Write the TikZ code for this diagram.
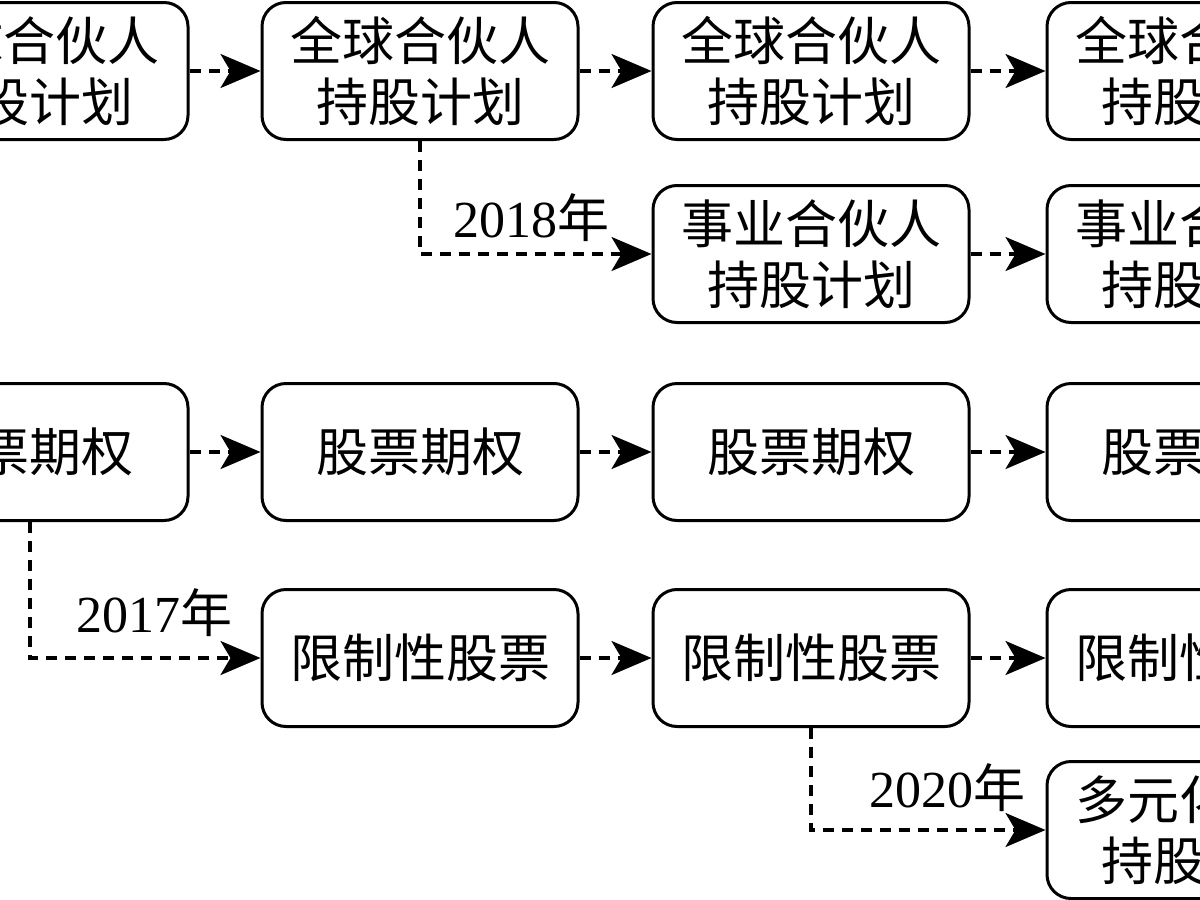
\documentclass[tikz,border=0pt]{standalone}
\usepackage{fontspec}
\usepackage{tikz}
\usetikzlibrary{arrows.meta}
\setmainfont{Liberation Serif}
\newfontfamily\cjk{Noto Sans CJK SC}

\begin{document}
\begin{tikzpicture}[x=1pt,y=-1pt,
  box/.style={draw,line width=3pt,rounded corners=24pt,minimum width=316pt,minimum height=137pt,align=center,font=\cjk\fontsize{52}{61}\selectfont},
  link/.style={line width=3.2pt,dash pattern=on 11pt off 8pt,-{Stealth[length=40pt,width=34pt,inset=10pt]}},
  year/.style={above,inner sep=3pt,font=\fontsize{52}{61}\selectfont}]
\useasboundingbox (0,0) rectangle (1200,900);
\clip (0,0) rectangle (1200,900);
\node[box] (a1) at (30,71) {全球合伙人\\持股计划};
\node[box] (a2) at (420,71) {全球合伙人\\持股计划};
\node[box] (a3) at (811,71) {全球合伙人\\持股计划};
\node[box] (a4) at (1205,71) {全球合伙人\\持股计划};
\node[box] (b3) at (811,254) {事业合伙人\\持股计划};
\node[box] (b4) at (1205,254) {事业合伙人\\持股计划};
\node[box] (c1) at (30,452) {股票期权};
\node[box] (c2) at (420,452) {股票期权};
\node[box] (c3) at (811,452) {股票期权};
\node[box] (c4) at (1205,452) {股票期权};
\node[box] (d2) at (420,658) {限制性股票};
\node[box] (d3) at (811,658) {限制性股票};
\node[box] (d4) at (1205,658) {限制性股票};
\node[box] (e4) at (1205,830) {多元化员工\\持股计划};
\draw[link] (a1) -- (a2);
\draw[link] (a2) -- (a3);
\draw[link] (a3) -- (a4);
\draw[link] (b3) -- (b4);
\draw[link] (c1) -- (c2);
\draw[link] (c2) -- (c3);
\draw[link] (c3) -- (c4);
\draw[link] (d2) -- (d3);
\draw[link] (d3) -- (d4);
\draw[link] (a2.south) |- (b3.west) node[year,pos=0.74,yshift=8pt] {2018{\cjk 年}};
\draw[link] (c1.south) |- (d2.west) node[year,pos=0.77,yshift=17pt] {2017{\cjk 年}};
\draw[link] (d3.south) |- (e4.west) node[year,pos=0.79,yshift=14pt] {2020{\cjk 年}};
\end{tikzpicture}
\end{document}
